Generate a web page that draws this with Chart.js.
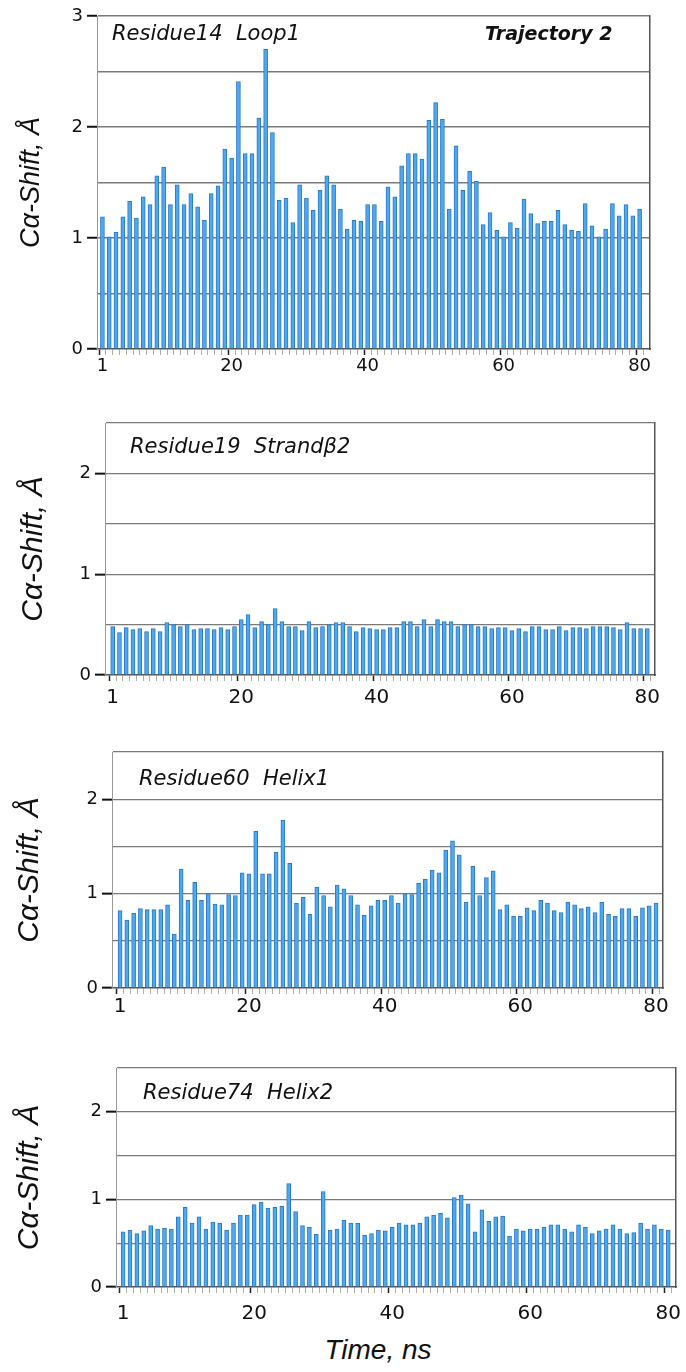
<!DOCTYPE html>
<html>
<head>
<meta charset="utf-8">
<script src="https://cdn.jsdelivr.net/npm/chart.js@4.4.1/dist/chart.umd.min.js"></script>
<style>
  body { margin: 0; background: #fff; width: 686px; height: 1372px; position: relative; overflow: hidden; }
  canvas { position: absolute; left: 0; }
  .note { position: absolute; font-family: "DejaVu Sans"; font-style: italic; font-size: 21px; line-height: 24px; color: #111; white-space: pre; }
  .traj { font-weight: bold; font-size: 19px; }
  .xtitle { position: absolute; font-family: "Liberation Sans"; font-style: italic; font-size: 28px; line-height: 30px; color: #111; transform: translateX(-50%); }
</style>
</head>
<body>
<canvas id="c1"></canvas>
<canvas id="c2"></canvas>
<canvas id="c3"></canvas>
<canvas id="c4"></canvas>

<div class="note" style="left:112px; top:21px;">Residue14  Loop1</div>
<div class="note traj" style="left:485px; top:21px;">Trajectory 2</div>
<div class="note" style="left:130px; top:434px;">Residue19  Strandβ2</div>
<div class="note" style="left:139px; top:766px;">Residue60  Helix1</div>
<div class="note" style="left:143px; top:1080px;">Residue74  Helix2</div>
<div class="xtitle" style="left:378px; top:1335px;">Time, ns</div>

<script>
// time points (ns)
const timeNs = [1,2,3,4,5,6,7,8,9,10,11,12,13,14,15,16,17,18,19,20,
  21,22,23,24,25,26,27,28,29,30,31,32,33,34,35,36,37,38,39,40,
  41,42,43,44,45,46,47,48,49,50,51,52,53,54,55,56,57,58,59,60,
  61,62,63,64,65,66,67,68,69,70,71,72,73,74,75,76,77,78,79,80];
const majorTicks = [1, 20, 40, 60, 80];

// C-alpha shift, angstrom
const residue14 = [1.19,1.01,1.05,1.19,1.33,1.18,1.37,1.30,1.56,1.64,
  1.30,1.48,1.30,1.40,1.28,1.16,1.40,1.47,1.80,1.72,
  2.41,1.76,1.76,2.08,2.70,1.95,1.34,1.36,1.14,1.48,
  1.36,1.25,1.43,1.56,1.48,1.26,1.08,1.16,1.15,1.30,
  1.30,1.15,1.46,1.37,1.65,1.76,1.76,1.71,2.06,2.22,
  2.07,1.26,1.83,1.43,1.60,1.51,1.12,1.23,1.07,1.01,
  1.14,1.09,1.35,1.22,1.13,1.15,1.15,1.25,1.12,1.07,
  1.06,1.31,1.11,1.01,1.08,1.31,1.20,1.30,1.20,1.26];
const residue19 = [0.48,0.42,0.47,0.45,0.46,0.43,0.46,0.43,0.52,0.50,
  0.48,0.50,0.45,0.46,0.46,0.45,0.47,0.45,0.48,0.55,
  0.60,0.47,0.53,0.50,0.66,0.53,0.48,0.48,0.44,0.53,
  0.47,0.48,0.50,0.52,0.52,0.48,0.43,0.47,0.46,0.45,
  0.45,0.47,0.47,0.53,0.53,0.48,0.55,0.48,0.55,0.53,
  0.53,0.48,0.50,0.50,0.48,0.48,0.46,0.47,0.47,0.44,
  0.46,0.43,0.48,0.48,0.45,0.45,0.48,0.44,0.47,0.47,
  0.46,0.48,0.48,0.48,0.47,0.45,0.52,0.46,0.46,0.46];
const residue60 = [0.82,0.72,0.79,0.84,0.83,0.83,0.83,0.88,0.57,1.26,
  0.93,1.12,0.93,1.00,0.89,0.88,0.99,0.98,1.22,1.21,
  1.66,1.21,1.21,1.44,1.78,1.32,0.90,0.96,0.78,1.07,
  0.98,0.86,1.09,1.05,0.98,0.88,0.77,0.87,0.93,0.93,
  0.98,0.90,1.00,0.99,1.11,1.15,1.25,1.22,1.46,1.56,
  1.41,0.91,1.29,0.98,1.17,1.24,0.83,0.88,0.76,0.76,
  0.85,0.82,0.93,0.90,0.82,0.80,0.91,0.88,0.84,0.86,
  0.80,0.91,0.78,0.76,0.84,0.84,0.76,0.85,0.87,0.90];
const residue74 = [0.63,0.65,0.61,0.64,0.70,0.66,0.67,0.66,0.80,0.91,
  0.73,0.80,0.66,0.74,0.73,0.65,0.73,0.82,0.82,0.94,
  0.97,0.90,0.91,0.92,1.18,0.86,0.70,0.68,0.60,1.09,
  0.65,0.66,0.76,0.73,0.73,0.59,0.61,0.65,0.64,0.68,
  0.73,0.71,0.71,0.73,0.80,0.82,0.84,0.79,1.02,1.05,
  0.95,0.63,0.88,0.75,0.80,0.81,0.58,0.66,0.64,0.66,
  0.66,0.68,0.71,0.71,0.66,0.63,0.71,0.68,0.61,0.64,
  0.66,0.71,0.66,0.61,0.62,0.73,0.66,0.71,0.66,0.65];

// one chart per residue; p holds the plot box in page pixels
function makePanel(id, values, p) {
  const canvas = document.getElementById(id);
  canvas.width = 686;
  canvas.height = p.padTop + (p.bottom - p.top) + p.xH;
  canvas.style.top = (p.top - p.padTop) + 'px';

  new Chart(canvas, {
    type: 'bar',
    data: {
      datasets: [{
        data: timeNs.map((t, i) => ({ x: t, y: values[i] })),
        backgroundColor: '#4ea8ef',
        borderColor: '#2879c8',
        borderWidth: { left: 1, right: 1, top: 1, bottom: 0 },
        barThickness: 4
      }]
    },
    options: {
      responsive: false,
      animation: false,
      layout: { padding: { top: p.padTop, right: 686 - p.right, left: 0, bottom: 0 } },
      plugins: { legend: { display: false }, tooltip: { enabled: false } },
      scales: {
        x: {
          type: 'linear',
          min: p.xMin,
          max: p.xMax,
          afterBuildTicks: s => { s.ticks = timeNs.map(v => ({ value: v })); },
          afterFit: s => { s.height = p.xH; s.paddingLeft = 0; s.paddingRight = 0; },
          ticks: {
            autoSkip: false, maxRotation: 0, padding: p.xPad, color: '#111',
            font: { family: 'DejaVu Sans', size: p.xFont },
            callback: v => majorTicks.includes(v) ? String(v) : ''
          },
          grid: {
            drawOnChartArea: false, tickLength: 6,
            tickColor: c => majorTicks.includes(c.tick && c.tick.value) ? '#222' : '#b5aca2',
            tickWidth: c => majorTicks.includes(c.tick && c.tick.value) ? 1.5 : 1
          },
          border: { color: '#555', width: 1.5 }
        },
        y: {
          min: 0,
          max: p.yMax,
          z: 1,
          afterFit: s => { s.width = p.left; s.paddingTop = 0; s.paddingBottom = 0; },
          ticks: {
            stepSize: 0.5, padding: 4, color: '#111',
            font: { family: 'DejaVu Sans', size: 18 },
            callback: v => Number.isInteger(v) ? String(v) : ''
          },
          grid: {
            color: c => (c.tick && c.tick.value === 0) ? 'rgba(0,0,0,0)' : '#7a7a7a',
            lineWidth: p.gridW,
            tickLength: 10,
            tickColor: c => (c.tick && Number.isInteger(c.tick.value)) ? '#111' : 'rgba(0,0,0,0)',
            tickWidth: 2
          },
          border: { color: '#999', width: 1 },
          title: {
            display: true, text: 'Cα-Shift, Å', color: '#111',
            font: { family: 'Liberation Sans', style: 'italic', size: p.titleSize },
            padding: { top: p.titlePad, bottom: 0 }
          }
        },
        yR: {
          position: 'right', display: true, min: 0, max: 1,
          ticks: { display: false },
          grid: { display: false, drawTicks: false },
          border: { display: true, color: '#555', width: 1.5 },
          afterFit: s => { s.width = 0; }
        }
      }
    }
  });
}

makePanel('c1', residue14, { top: 16, bottom: 349, left: 97, right: 650, yMax: 3, xMin: 0.71, xMax: 81.02,
  padTop: 14, xH: 30, xPad: 1, xFont: 18, titleSize: 27, titlePad: 15, gridW: 1.5 });
makePanel('c2', residue19, { top: 423, bottom: 675, left: 105, right: 655, yMax: 2.5, xMin: 0.37, xMax: 80.63,
  padTop: 12, xH: 36, xPad: 5, xFont: 20, titleSize: 30, titlePad: 16, gridW: 1.3 });
makePanel('c3', residue60, { top: 752, bottom: 988, left: 112, right: 663, yMax: 2.5, xMin: 0.32, xMax: 80.52,
  padTop: 12, xH: 32, xPad: 1, xFont: 20, titleSize: 30, titlePad: 12, gridW: 1.3 });
makePanel('c4', residue74, { top: 1068, bottom: 1287, left: 116, right: 676, yMax: 2.5, xMin: 0.48, xMax: 80.62,
  padTop: 12, xH: 40, xPad: 9, xFont: 20, titleSize: 30, titlePad: 12, gridW: 1.3 });
</script>
</body>
</html>
